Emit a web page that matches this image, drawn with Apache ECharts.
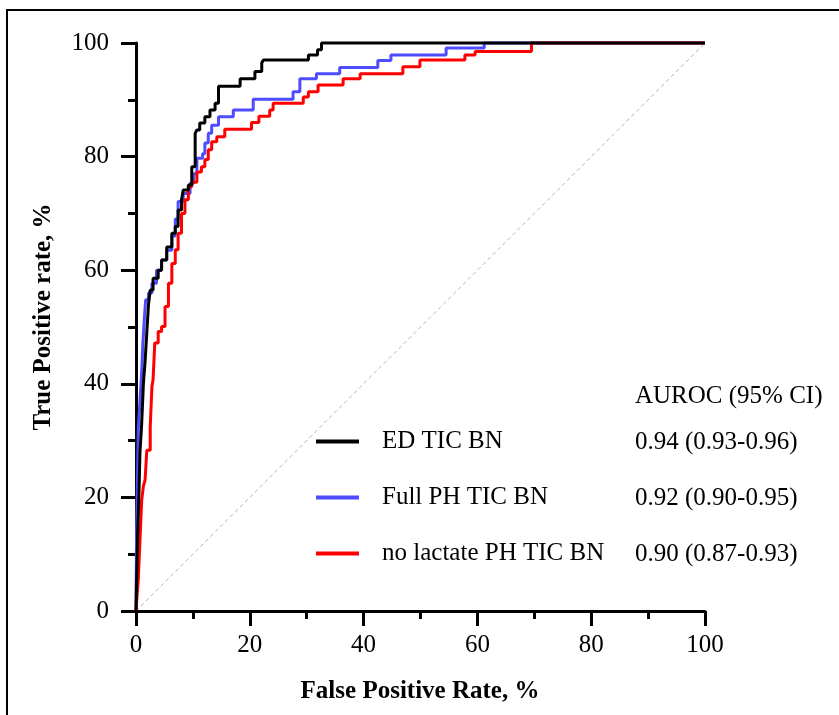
<!DOCTYPE html>
<html>
<head>
<meta charset="utf-8">
<script src="https://cdn.jsdelivr.net/npm/echarts@6/dist/echarts.min.js"></script>
<style>
html,body{margin:0;padding:0;background:#fff;}
#chart{width:839px;height:715px;}
</style>
</head>
<body>
<div id="chart"></div>
<script>
// ---- data (FPR %, TPR %) : start of each horizontal step ----
const seriesNames = ['ED TIC BN', 'Full PH TIC BN', 'no lactate PH TIC BN'];
const aurocHeader = 'AUROC (95% CI)';
const aurocLabels = ['0.94 (0.93-0.96)', '0.92 (0.90-0.95)', '0.90 (0.87-0.93)'];
const xTicks = [0, 20, 40, 60, 80, 100];
const yTicks = [0, 20, 40, 60, 80, 100];

const edTicBn = [
  [0,0],[0.1,5],[0.3,14],[0.5,20],[0.7,28],[1.0,33],[1.3,40],[1.6,44],[1.9,49],
  [2.2,54],[2.5,56.5],[3.0,58.6],[3.9,60],[4.5,61.8],[5.4,64.1],[6.3,66.5],
  [6.9,67.7],[7.4,70.6],[8.0,72.4],[8.3,74.1],[9.2,75],[9.8,78.2],[10.4,84.1],
  [10.7,84.7],[11.2,85.9],[12.1,87.0],[13.0,88.2],[13.9,89.4],[14.5,92.4],
  [18.3,93.7],[20.9,95.0],[22.1,96.5],[22.4,97.0],[30.3,97.9],[31.9,98.8],
  [32.6,100],[100,100]
];
const fullPhTicBn = [
  [0,0],[0.1,14],[0.3,25],[0.4,32],[0.7,37],[1.0,42],[1.2,47],[1.5,52],[1.7,54.8],
  [2.2,56],[2.8,57.7],[3.6,60],[4.5,61.8],[5.4,63.5],[6.3,66],[6.9,69],[7.4,72.1],
  [8.3,73.5],[9.5,75.3],[10.1,77],[10.7,79.7],[11.7,80.5],[12.1,82.4],[12.7,84.1],
  [13.3,85.5],[14.5,87.0],[17.1,88.2],[20.6,90.1],[27.6,91.4],[28.8,93.7],
  [31.7,94.6],[35.8,95.7],[42.5,96.9],[44.8,97.9],[54.5,99.1],[61.2,100],[100,100]
];
const noLactatePhTicBn = [
  [0,0],[0.2,3],[0.4,5.5],[0.7,12.5],[1.0,19.5],[1.3,22],[1.6,23.1],[1.9,28.3],
  [2.5,32.4],[2.8,39.5],[3.0,40.7],[3.3,47.2],[3.9,49.2],[4.5,50.1],[5.1,53.6],
  [5.7,57.7],[6.3,61.2],[6.9,63.6],[7.4,66.5],[8.0,70.0],[8.6,72.4],[9.2,74.7],
  [9.8,75.5],[10.7,77.3],[11.5,78.2],[12.1,79.5],[12.7,81.2],[13.3,82.6],
  [14.2,83.5],[15.6,84.8],[20.3,86.0],[21.6,87.1],[23.5,88.2],[24.1,89.4],
  [29.4,90.5],[30.3,91.4],[32.0,92.6],[36.4,93.7],[39.4,94.6],[46.9,95.8],
  [49.9,97.0],[57.8,97.9],[59.6,98.5],[69.5,100],[100,100]
];
const chanceLine = [[0,0],[100,100]];

// ---- chart ----
const FONT = "'Liberation Serif', 'Times New Roman', serif";
const chart = echarts.init(document.getElementById('chart'), null, {renderer:'canvas'});

const axisCommon = {
  type: 'value', min: 0, max: 100, interval: 20,
  axisLine: {show: true, onZero: false, lineStyle: {color: '#000', width: 3}},
  axisTick: {show: true, inside: false, length: 15, lineStyle: {color: '#000', width: 3}},
  minorTick: {show: true, splitNumber: 2, length: 8, lineStyle: {color: '#000', width: 3}},
  splitLine: {show: false},
  minorSplitLine: {show: false}
};

function mkLine(name, data, color, z) {
  return {
    name: name, type: 'line', data: data, step: 'end',
    showSymbol: false, symbol: 'none', clip: false, z: z,
    lineStyle: {color: color, width: 3}, itemStyle: {color: color},
    emphasis: {disabled: true}
  };
}

const option = {
  animation: false,
  backgroundColor: '#fff',
  grid: {left: 136, right: 134, top: 43, bottom: 104, containLabel: false},
  xAxis: Object.assign({}, axisCommon, {
    axisLabel: {color: '#000', fontFamily: FONT, fontSize: 25, margin: 22,
      formatter: v => xTicks.includes(v) ? String(v) : ''}
  }),
  yAxis: Object.assign({}, axisCommon, {
    axisLabel: {color: '#000', fontFamily: FONT, fontSize: 25, margin: 27,
      formatter: v => yTicks.includes(v) ? String(v) : ''}
  }),
  legend: {
    data: seriesNames,
    orient: 'vertical', left: 316, top: 429,
    icon: 'rect', itemWidth: 43, itemHeight: 4, itemGap: 31,
    padding: 0, selectedMode: false,
    textStyle: {color: '#000', fontFamily: FONT, fontSize: 25, padding: [0,0,0,18]}
  },
  series: [
    {
      name: 'chance', type: 'line', data: chanceLine, showSymbol: false, symbol: 'none',
      z: 1, lineStyle: {color: '#b5b5b5', width: 1, type: [4, 3]}, emphasis: {disabled: true}
    },
    mkLine(seriesNames[1], fullPhTicBn, '#4d4dff', 2),
    mkLine(seriesNames[2], noLactatePhTicBn, '#ff0000', 3),
    mkLine(seriesNames[0], edTicBn, '#000000', 4)
  ],
  graphic: [
    {type: 'rect', shape: {x: 7, y: 10, width: 900, height: 800}, silent: true, z: 0,
      style: {fill: 'none', stroke: '#000', lineWidth: 2}},
    {type: 'text', x: 420, y: 692, silent: true,
      style: {text: 'False Positive Rate, %', font: "bold 25px " + FONT, fill: '#000',
        align: 'center', verticalAlign: 'middle'}},
    {type: 'text', x: 44, y: 317, rotation: Math.PI / 2, silent: true,
      style: {text: 'True Positive rate, %', font: "bold 25px " + FONT, fill: '#000',
        align: 'center', verticalAlign: 'middle'}},
    {type: 'text', x: 635, y: 396, silent: true,
      style: {text: aurocHeader, font: "25px " + FONT, fill: '#000', align: 'left', verticalAlign: 'middle'}},
    {type: 'text', x: 635, y: 442, silent: true,
      style: {text: aurocLabels[0], font: "25px " + FONT, fill: '#000', align: 'left', verticalAlign: 'middle'}},
    {type: 'text', x: 635, y: 498, silent: true,
      style: {text: aurocLabels[1], font: "25px " + FONT, fill: '#000', align: 'left', verticalAlign: 'middle'}},
    {type: 'text', x: 635, y: 554, silent: true,
      style: {text: aurocLabels[2], font: "25px " + FONT, fill: '#000', align: 'left', verticalAlign: 'middle'}}
  ]
};
chart.setOption(option);
</script>
</body>
</html>
